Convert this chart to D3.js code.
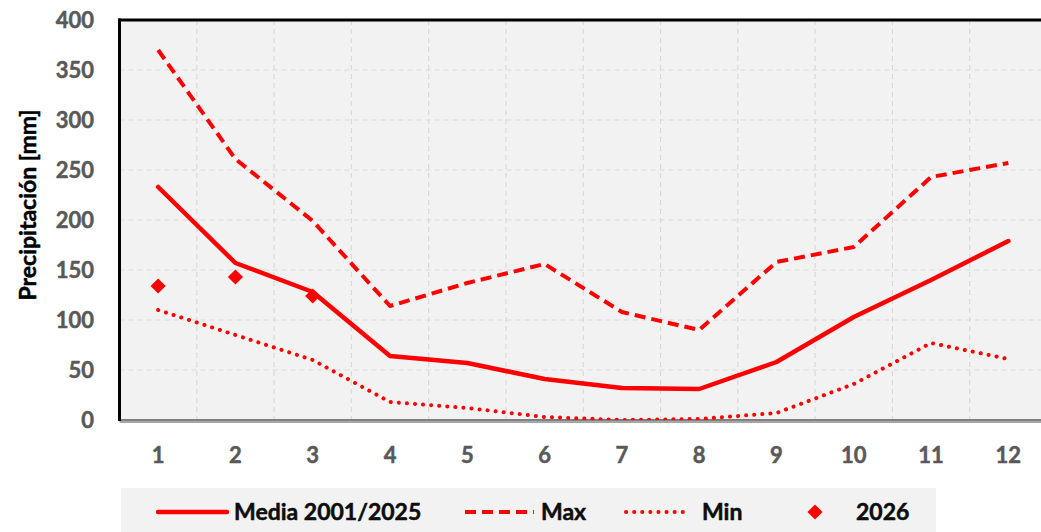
<!DOCTYPE html>
<html>
<head>
<meta charset="utf-8">
<script src="https://cdn.jsdelivr.net/npm/d3@7"></script>
<style>
  body { margin: 0; background: #fff; }
  svg { display: block; font-family: Lato, 'Open Sans', sans-serif; }
  .tick-label { font-size: 22px; font-weight: 700; fill: #595959; stroke: #595959; stroke-width: 0.5px; }
  .legend-label { font-size: 23px; font-weight: 700; fill: #0d0d0d; stroke: #0d0d0d; stroke-width: 0.5px; }
</style>
</head>
<body>
<svg id="chart" width="1041" height="532"></svg>
<script>
const months = [1, 2, 3, 4, 5, 6, 7, 8, 9, 10, 11, 12];
const media = [233, 157, 128, 64, 57, 41, 32, 31, 58, 103, 140, 179];
const maxVals = [370, 261, 199, 114, 137, 156, 108, 90, 158, 173, 243, 257];
const minVals = [110, 85, 60, 18, 12, 3, 0, 1, 7, 36, 77, 61];
const y2026 = [134, 143, 124];
const yTicks = [0, 50, 100, 150, 200, 250, 300, 350, 400];

const red = '#ff0000';
const svg = d3.select('#chart');
const W = 1041;
const plot = { left: 119.5, top: 20, right: 1047, bottom: 420 };

const x = d3.scaleBand().domain(months).range([plot.left, plot.right]);
const cx = d => x(d) + x.bandwidth() / 2;
const y = d3.scaleLinear().domain([0, 400]).range([plot.bottom, plot.top]);

// plot background
svg.append('rect')
  .attr('x', plot.left).attr('y', plot.top)
  .attr('width', W - plot.left).attr('height', plot.bottom - plot.top)
  .attr('fill', '#f2f2f2');

// grid
svg.append('g').selectAll('line').data(yTicks.filter(t => t > 0 && t < 400)).join('line')
  .attr('x1', plot.left).attr('x2', W)
  .attr('y1', d => y(d)).attr('y2', d => y(d))
  .attr('stroke', '#d9d9d9').attr('stroke-width', 1.2).attr('stroke-dasharray', '5,4');
svg.append('g').selectAll('line').data(months.slice(1)).join('line')
  .attr('x1', d => x(d)).attr('x2', d => x(d))
  .attr('y1', plot.top).attr('y2', plot.bottom)
  .attr('stroke', '#d9d9d9').attr('stroke-width', 1.2).attr('stroke-dasharray', '5,4');

// borders
svg.append('line').attr('x1', plot.left - 1.5).attr('x2', W)
  .attr('y1', plot.top).attr('y2', plot.top)
  .attr('stroke', '#000').attr('stroke-width', 3);
svg.append('line').attr('x1', plot.left).attr('x2', W)
  .attr('y1', plot.bottom + 2).attr('y2', plot.bottom + 2)
  .attr('stroke', '#a6a6a6').attr('stroke-width', 2);
svg.append('line').attr('x1', plot.left).attr('x2', W)
  .attr('y1', plot.bottom).attr('y2', plot.bottom)
  .attr('stroke', '#595959').attr('stroke-width', 1.5);
svg.append('line').attr('x1', plot.left).attr('x2', plot.left)
  .attr('y1', plot.top - 1.5).attr('y2', plot.bottom + 1)
  .attr('stroke', '#000').attr('stroke-width', 3);

// axis labels
svg.append('g').selectAll('text').data(yTicks).join('text')
  .attr('class', 'tick-label')
  .attr('x', 94).attr('y', d => y(d)).attr('dy', '0.36em')
  .attr('text-anchor', 'end').text(d => d);
svg.append('g').selectAll('text').data(months).join('text')
  .attr('class', 'tick-label')
  .attr('x', d => cx(d)).attr('y', 463)
  .attr('text-anchor', 'middle').text(d => d);

svg.append('text')
  .attr('transform', 'translate(36,205) rotate(-90)')
  .attr('text-anchor', 'middle')
  .attr('font-size', 23).attr('font-weight', 700).attr('fill', '#000')
  .attr('stroke', '#000').attr('stroke-width', 0.5)
  .text('Precipitación [mm]');

// series
const line = d3.line().x((d, i) => cx(months[i])).y(d => y(d));
const series = [
  { name: 'Media 2001/2025', values: media, dash: null, cap: 'round', width: 4.5 },
  { name: 'Max', values: maxVals, dash: '11,6', cap: 'butt', width: 4 },
  { name: 'Min', values: minVals, dash: '0.1,8', cap: 'round', width: 4 },
];
svg.append('clipPath').attr('id', 'clip').append('rect')
  .attr('x', plot.left).attr('y', 0).attr('width', W - plot.left).attr('height', plot.bottom);
const gLines = svg.append('g').attr('clip-path', 'url(#clip)');
gLines.selectAll('path').data(series).join('path')
  .attr('d', d => line(d.values))
  .attr('fill', 'none').attr('stroke', red)
  .attr('stroke-width', d => d.width)
  .attr('stroke-linecap', d => d.cap)
  .attr('stroke-linejoin', 'round')
  .attr('stroke-dasharray', d => d.dash);

const diamond = d3.symbol().type(d3.symbolSquare).size(115);
svg.append('g').selectAll('path').data(y2026).join('path')
  .attr('transform', (d, i) => `translate(${cx(months[i])},${y(d)}) rotate(45)`)
  .attr('d', diamond).attr('fill', red);

// legend
svg.append('rect').attr('x', 121).attr('y', 488).attr('width', 815).attr('height', 44)
  .attr('fill', '#f2f2f2');
const ly = 512;
const legendItems = [
  { s: series[0], x0: 158, x1: 227, tx: 234 },
  { s: series[1], x0: 465, x1: 534, tx: 541 },
  { s: series[2], x0: 626, x1: 688, tx: 702 },
];
const lg = svg.append('g');
legendItems.forEach(it => {
  lg.append('line').attr('x1', it.x0).attr('x2', it.x1).attr('y1', ly).attr('y2', ly)
    .attr('stroke', red).attr('stroke-width', it.s.width)
    .attr('stroke-linecap', it.s.cap).attr('stroke-dasharray', it.s.dash);
  lg.append('text').attr('class', 'legend-label').attr('x', it.tx).attr('y', ly).attr('dy', '0.36em')
    .text(it.s.name);
});
lg.append('path').attr('transform', `translate(815,${ly}) rotate(45)`)
  .attr('d', diamond).attr('fill', red);
lg.append('text').attr('class', 'legend-label').attr('x', 856).attr('y', ly).attr('dy', '0.36em')
  .text('2026');
</script>
</body>
</html>
